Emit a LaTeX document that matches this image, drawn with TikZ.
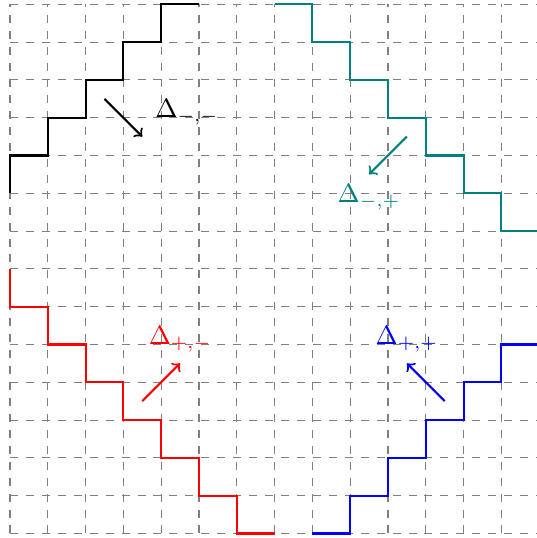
\documentclass[tikz,border=0pt]{standalone}
\begin{document}
\begin{tikzpicture}[x=0.5cm,y=0.5cm,>=to,stair/.style={thick},pointer/.style={thick,->}]
	\clip (-0.265,-0.12) rectangle (13.94,14.114);
	\draw[gray,dashed,step=0.5cm] (0,0) grid (14,14);
	% staircases
	\draw[stair,black] (0,9) foreach \i in {1,...,5} {-- ++(0,1) -- ++(1,0)};
	\draw[stair,teal] (7,14) foreach \i in {1,...,6} {-- ++(1,0) -- ++(0,-1)} -- ++(1,0);
	\draw[stair,red] (0,7) foreach \i in {1,...,7} {-- ++(0,-1) -- ++(1,0)};
	\draw[stair,blue] (8,0) foreach \i in {1,...,5} {-- ++(1,0) -- ++(0,1)} -- ++(1,0);
	% pointers
	\coordinate (mmA) at (2.5,11.5); \coordinate (mmB) at (3.5,10.5);
	\coordinate (mpA) at (10.5,10.5); \coordinate (mpB) at (9.5,9.5);
	\coordinate (pmA) at (3.5,3.5); \coordinate (pmB) at (4.5,4.5);
	\coordinate (ppA) at (11.5,3.5); \coordinate (ppB) at (10.5,4.5);
	\draw[pointer,black] (mmA)--(mmB);
	\draw[pointer,teal] (mpA)--(mpB);
	\draw[pointer,red] (pmA)--(pmB);
	\draw[pointer,blue] (ppA)--(ppB);
	\node[anchor=base west,black] (mm) at (3.6,11) {$\Delta_{-,-}$};
	\node[anchor=base,teal] (mp) at (9.5,8.75) {$\Delta_{-,+}$};
	\node[anchor=base,red] (pm) at (4.5,5) {$\Delta_{+,-}$};
	\node[anchor=base,blue] (pp) at (10.5,5) {$\Delta_{+,+}$};
\end{tikzpicture}
\end{document}
